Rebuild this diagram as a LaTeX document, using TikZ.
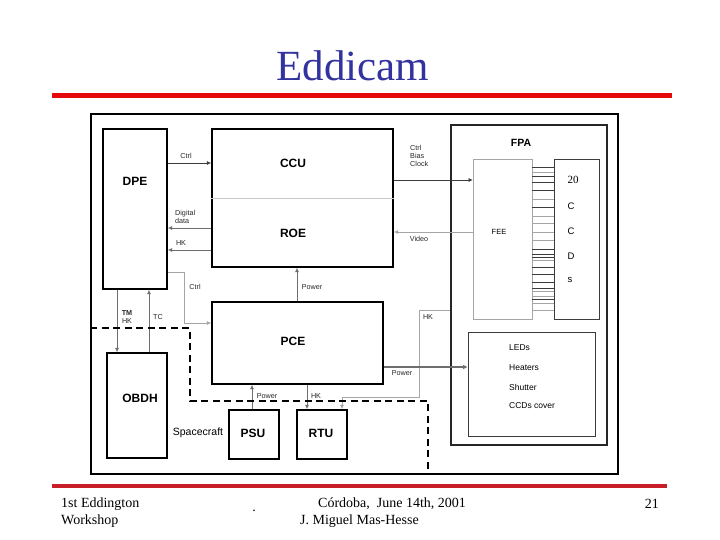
\documentclass[tikz,border=0pt]{standalone}
\usepackage{fontspec}
\setmainfont{Liberation Serif}
\setsansfont{Liberation Sans}
\usetikzlibrary{arrows.meta}
\definecolor{titleblue}{RGB}{51,51,160}
\definecolor{toprule}{RGB}{228,10,10}
\definecolor{botrule}{RGB}{200,30,40}
\definecolor{lgray}{RGB}{165,165,165}
\definecolor{mgray}{RGB}{110,110,110}
\definecolor{dgray}{RGB}{60,60,60}
\begin{document}
\begin{tikzpicture}[x=1pt,y=-1pt,
  thickbox/.style={draw=black, line width=2.3pt, inner sep=0pt},
  midbox/.style={draw=black!85, line width=1.4pt, inner sep=0pt},
  thinbox/.style={draw=dgray, line width=0.9pt, inner sep=0pt},
  bigl/.style={font=\sffamily\bfseries\fontsize{12}{14}\selectfont, inner sep=0pt},
  midl/.style={font=\sffamily\fontsize{8.5}{10}\selectfont, inner sep=0pt},
  tiny/.style={font=\sffamily\fontsize{7.2}{8}\selectfont, inner sep=0pt, text=black!85},
  arr/.style={-{Triangle[length=4pt,width=3.5pt]}, line width=0.7pt},
  foot/.style={font=\fontsize{14}{16}\selectfont, inner sep=0pt}
]
\useasboundingbox (0,0) rectangle (720,540);

% title and rules
\node[font=\fontsize{43}{48}\selectfont, text=titleblue, inner sep=0pt] (title) at (353,66) {Eddicam};
\draw[toprule, line width=5pt] (52,96) -- (672,96);
\draw[botrule, line width=3.5pt] (52,486) -- (667,486);

% frame
\node[draw=black, line width=1.1pt, minimum width=527, minimum height=360, inner sep=0pt] (frame) at (354.5,294) {};

% boxes
\node[thickbox, minimum width=64, minimum height=160] (dpe) at (135,209) {};
\node[bigl] (dpel) at (135,181) {DPE};
\node[thickbox, minimum width=181, minimum height=138] (cr) at (302.5,198) {};
\draw[lgray!60, line width=0.8pt] (cr.west |- 0,198) -- (cr.east |- 0,198);
\node[bigl] (ccul) at (293,163) {CCU};
\node[bigl] (roel) at (293,233) {ROE};
\node[thickbox, minimum width=171, minimum height=82] (pce) at (297.5,343) {};
\node[bigl] (pcel) at (293,341) {PCE};
\node[thickbox, minimum width=60, minimum height=105] (obdh) at (137,405.5) {};
\node[bigl] (obdhl) at (140,398) {OBDH};
\node[thickbox, minimum width=50, minimum height=49] (psu) at (254,434.5) {};
\node[bigl] (psul) at (253,433) {PSU};
\node[thickbox, minimum width=50, minimum height=49] (rtu) at (322,434.5) {};
\node[bigl] (rtul) at (321,433) {RTU};
\node[font=\sffamily\fontsize{10.5}{12}\selectfont, inner sep=0pt] (spc) at (198,433) {Spacecraft};

% FPA
\node[midbox, minimum width=156, minimum height=320] (fpa) at (529,285) {};
\node[font=\sffamily\bfseries\fontsize{10.5}{12}\selectfont, inner sep=0pt] (fpal) at (521,143) {FPA};
\node[thinbox, draw=lgray, minimum width=59, minimum height=160] (fee) at (502.5,239) {};
\node[font=\sffamily\fontsize{7.5}{9}\selectfont, inner sep=0pt] (feel) at (499,232) {FEE};
\node[thinbox, minimum width=45, minimum height=160] (ccd) at (576.5,239) {};
\node[font=\fontsize{11}{12}\selectfont, inner sep=0pt] (c20) at (573,180) {20};
\node[font=\sffamily\fontsize{9.5}{11}\selectfont, inner sep=0pt] (cc1) at (571,206) {C};
\node[font=\sffamily\fontsize{9.5}{11}\selectfont, inner sep=0pt] (cc2) at (571,231) {C};
\node[font=\sffamily\fontsize{9.5}{11}\selectfont, inner sep=0pt] (cd) at (571,256) {D};
\node[font=\sffamily\fontsize{9.5}{11}\selectfont, inner sep=0pt] (cs) at (570,280) {s};
\foreach \yy/\cc in {167/dgray,172/lgray,176/dgray,182/dgray,190/dgray,199/lgray,207/dgray,216/lgray,223/lgray,232/lgray,240/lgray,249/dgray,254/dgray,257/dgray,260/lgray,267/dgray,274/dgray,282/dgray,288/dgray,291/lgray,296/lgray,299/dgray,303/lgray,310/lgray}
  \draw[\cc, line width=0.6pt] (fee.east |- 0,\yy) -- (ccd.west |- 0,\yy);
\node[thinbox, minimum width=127, minimum height=104] (leds) at (531.5,384) {};
\node[midl, anchor=west] (l1) at (509,348) {LEDs};
\node[midl, anchor=west] (l2) at (509,368) {Heaters};
\node[midl, anchor=west] (l3) at (509,387) {Shutter};
\node[midl, anchor=west] (l4) at (509,406) {CCDs cover};

% connectors
\draw[arr, dgray] (dpe.east |- 0,163) -- (cr.west |- 0,163);
\node[tiny] (lctrl) at (186,156) {Ctrl};
\draw[arr, mgray] (cr.west |- 0,228) -- (dpe.east |- 0,228);
\node[tiny, anchor=west, align=left, font=\sffamily\fontsize{7.2}{8.5}\selectfont] (ldig) at (175,217) {Digital\\data};
\draw[arr, mgray] (cr.west |- 0,250) -- (dpe.east |- 0,250);
\node[tiny] (lhk1) at (181,243) {HK};
\coordinate (c1) at (184,272);
\coordinate (c2) at (184,323);
\draw[arr, lgray] (dpe.east |- c1) -- (c1) -- (c2) -- (pce.west |- c2);
\node[tiny] (lctrl2) at (195,287) {Ctrl};
\draw[arr, mgray] (pce.north -| 297,0) -- (cr.south -| 297,0);
\node[tiny] (lpow1) at (312,287) {Power};
\draw[arr, dgray] (cr.east |- 0,180) -- (fee.west |- 0,180);
\node[tiny, anchor=west, align=left, font=\sffamily\fontsize{7.2}{8}\selectfont] (lcbc) at (410,156) {Ctrl\\Bias\\Clock};
\draw[arr, lgray] (fee.west |- 0,232) -- (cr.east |- 0,232);
\node[tiny] (lvid) at (419,239) {Video};
\coordinate (h1) at (419,310);
\coordinate (h2) at (419,397);
\coordinate (h3) at (342,397);
\draw[arr, lgray] (fpa.west |- h1) -- (h1) -- (h2) -- (h3) -- (rtu.north -| h3);
\node[tiny] (lhk2) at (428,317) {HK};
\draw[-{Triangle[length=4.5pt,width=4pt]}, mgray, line width=1.6pt] (pce.east |- 0,367) -- (leds.west |- 0,367);
\node[tiny] (lpow2) at (402,373) {Power};
\draw[arr, mgray] (dpe.south -| 117,0) -- (obdh.north -| 117,0);
\node[tiny, align=center, font=\sffamily\fontsize{7.2}{8}\selectfont] (ltm) at (127,317) {\textbf{TM}\\HK};
\draw[arr, mgray] (obdh.north -| 149,0) -- (dpe.south -| 149,0);
\node[tiny] (ltc) at (158,317) {TC};
\draw[arr, mgray] (psu.north -| 252,0) -- (pce.south -| 252,0);
\node[tiny] (lpow3) at (267,396) {Power};
\draw[arr, mgray] (pce.south -| 307,0) -- (rtu.north -| 307,0);
\node[tiny] (lhk3) at (316,396) {HK};

% dashed boundary
\coordinate (d1) at (190,328);
\coordinate (d2) at (190,401);
\coordinate (d3) at (428,401);
\draw[black, line width=1.8pt, dash pattern=on 7pt off 4.5pt] (frame.west |- d1) -- (d1) -- (d2) -- (d3) -- (frame.south -| d3);

% footer
\node[foot, anchor=west] (f1) at (61,504) {1st Eddington};
\node[foot, anchor=west] (f2) at (61,521) {Workshop};
\node[foot] (fdot) at (254,511) {.};
\node[foot, anchor=west] (f3) at (318,504) {Córdoba,\ \ June 14th, 2001};
\node[foot, anchor=west] (f4) at (300,521) {J. Miguel Mas-Hesse};
\node[foot, anchor=east] (f5) at (659,504) {21};
\end{tikzpicture}
\end{document}
